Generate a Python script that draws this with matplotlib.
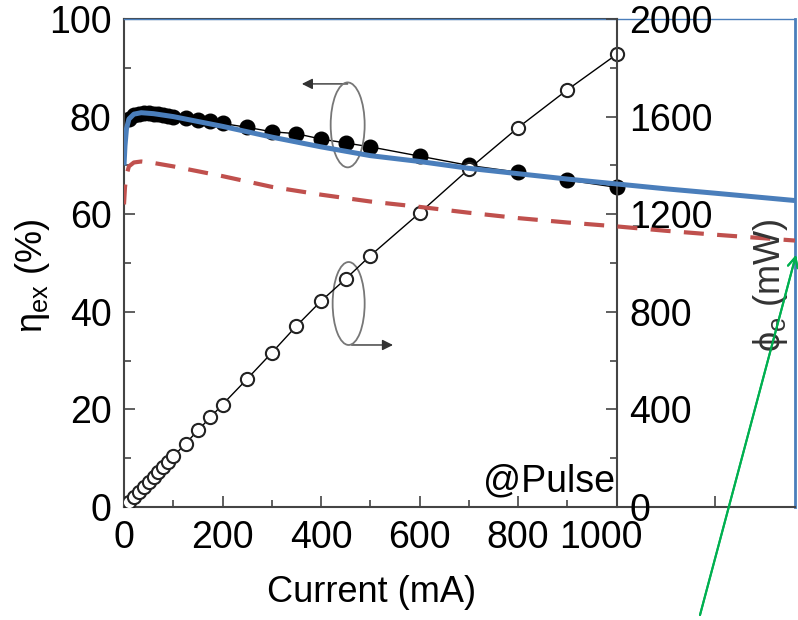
import matplotlib
matplotlib.use('Agg')
import matplotlib.pyplot as plt
import matplotlib.transforms as mtransforms
from matplotlib.patches import Ellipse
from matplotlib.ticker import MultipleLocator

plt.rcParams['font.family'] = ['Liberation Sans', 'DejaVu Sans']
plt.rcParams['mathtext.fontset'] = 'custom'
plt.rcParams['mathtext.rm'] = 'Liberation Sans'

# efficiency data (filled dots, left axis)
I_eta = [10, 20, 30, 40, 50, 60, 70, 80, 90, 100, 125, 150, 175, 200,
         250, 300, 350, 400, 450, 500, 600, 700, 800, 900, 1000]
eta = [79.5, 80.3, 80.6, 80.7, 80.7, 80.6, 80.5, 80.4, 80.2, 80.0, 79.7, 79.3, 79.0, 78.6,
       77.8, 76.9, 76.5, 75.4, 74.6, 73.8, 71.9, 70.0, 68.6, 67.0, 65.5]

# optical power (open circles, right axis)
I_pow = [10, 20, 30, 40, 50, 60, 70, 80, 90, 100, 125, 150, 175, 200,
         250, 300, 350, 400, 450, 500, 600, 700, 800, 900, 1000]
power = [20, 41, 62, 83, 104, 124, 145, 165, 186, 207, 260, 314, 367, 420,
         525, 632, 742, 844, 935, 1030, 1205, 1385, 1555, 1710, 1855]

# model curves (left axis)
I_fit = [0, 2, 5, 10, 20, 35, 60, 100, 200, 300, 400, 500, 600, 700,
         800, 900, 1000, 1100, 1200, 1362]
eta_blue = [70, 74, 77.5, 79.5, 80.5, 80.8, 80.6, 80.0, 78.0, 75.8, 73.8, 72.0, 70.8, 69.4,
            68.3, 67.2, 66.2, 65.2, 64.3, 62.8]
eta_red = [62, 65.5, 68, 69.8, 70.6, 70.8, 70.5, 69.8, 67.8, 65.6, 64.0, 62.6, 61.5, 60.3,
           59.2, 58.3, 57.5, 56.6, 55.8, 54.6]

xmax = 1362
axcol = '#444444'
blue = '#4a7ebb'
red = '#c0504d'
fs_tick = 27
fs_lab = 26

fig = plt.figure(figsize=(7.98, 6.2), dpi=100)
ax = fig.add_axes([124/798, 1-507/620, (795-124)/798, (507-19)/620])
ax.set_xlim(0, xmax)
ax.set_ylim(0, 100)

ax.plot(I_eta, eta, color='black', lw=1, marker='o', ms=10.5, mfc='black', mec='black')

ax2 = ax.twinx()
ax2.set_ylim(0, 2000)
ax2.plot(I_pow, power, color='black', lw=1, marker='o', ms=9.5, mfc='white', mec='#222222', mew=1.5)

ax3 = ax.twinx()
ax3.set_ylim(0, 100)
ax3.axis('off')
ax3.plot(I_fit, eta_blue, color=blue, lw=3.6, solid_capstyle='butt')
ax3.plot(I_fit, eta_red, color=red, lw=3, linestyle=(0, (4.8, 3.2)))

# spines
for s in ['left', 'bottom']:
    ax.spines[s].set_color(axcol)
    ax.spines[s].set_linewidth(1.5)
ax.spines['top'].set_color(blue)
ax.spines['top'].set_linewidth(1)
ax.spines['right'].set_color(blue)
ax.spines['right'].set_linewidth(2)
ax.axhline(100, xmin=0, xmax=1000/xmax, color=axcol, lw=1.5, clip_on=False)
for s in ['left', 'top', 'bottom']:
    ax2.spines[s].set_visible(False)
ax2.spines['right'].set_position(('data', 1000))
ax2.spines['right'].set_color(axcol)
ax2.spines['right'].set_linewidth(1.5)

# ticks
ax.set_xticks([0, 200, 400, 600, 800, 1000, 1200])
ax.set_xticklabels(['0', '200', '400', '600', '800', '1000', ''])
ax.set_xticks([100, 300, 500, 700, 900], minor=True)
ax.yaxis.set_major_locator(MultipleLocator(20))
ax.yaxis.set_minor_locator(MultipleLocator(10))
ax.tick_params(axis='both', which='both', direction='in', color=axcol, labelsize=fs_tick, pad=9)
ax.tick_params(axis='both', which='major', length=8, width=1.2)
ax.tick_params(axis='both', which='minor', length=5, width=1.2)
ax.tick_params(axis='y', right=False)
ax.tick_params(axis='x', top=False)

# "1000" label sits a bit left of its tick, as in the original
lab = ax.get_xticklabels()[5]
lab.set_transform(lab.get_transform() + mtransforms.ScaledTranslation(-16/100, 0, fig.dpi_scale_trans))

ax2.yaxis.set_major_locator(MultipleLocator(400))
ax2.yaxis.set_minor_locator(MultipleLocator(200))
ax2.tick_params(axis='y', which='both', direction='in', color=axcol, labelsize=fs_tick, pad=9)
ax2.tick_params(axis='y', which='major', length=8, width=1.2)
ax2.tick_params(axis='y', which='minor', length=5, width=1.2)

# labels
fig.text(372/798, 1-592/620, 'Current (mA)', ha='center', va='center', fontsize=fs_lab)
fig.text(33/798, 1-276/620, 'η$_{\\mathrm{ex}}$ (%)', ha='center', va='center',
         rotation=90, fontsize=fs_lab)
fig.text(771/798, 1-285/620, 'ϕ$_{\\mathrm{e}}$ (mW)', ha='center', va='center',
         rotation=90, fontsize=fs_lab, color='#333333', zorder=0)
ax.text(996, 1.5, '@Pulse', ha='right', va='bottom', fontsize=fs_tick)

# axis markers (ellipse + arrow)
ax.add_patch(Ellipse((454, 78.3), 69, 17.4, fill=False, ec='#777777', lw=1.3, zorder=5))
ax.annotate('', xy=(361, 86.7), xytext=(454, 86.7),
            arrowprops=dict(arrowstyle='-|>', color='#333333', lw=1, mutation_scale=16,
                            shrinkA=0, shrinkB=0))
ax.add_patch(Ellipse((456, 41.7), 65, 17.0, fill=False, ec='#777777', lw=1.3, zorder=5))
ax.annotate('', xy=(546, 33.2), xytext=(462, 33.2),
            arrowprops=dict(arrowstyle='-|>', color='#333333', lw=1, mutation_scale=16,
                            shrinkA=0, shrinkB=0))

# green pointer arrow
fig.add_artist(plt.annotate('', xy=(796, 620-255), xytext=(700, 620-615),
                            xycoords='figure pixels', textcoords='figure pixels',
                            arrowprops=dict(arrowstyle='->', color='#00b050', lw=1.5,
                                            mutation_scale=18, shrinkA=0, shrinkB=0)))

fig.savefig('out.png', dpi=100)
